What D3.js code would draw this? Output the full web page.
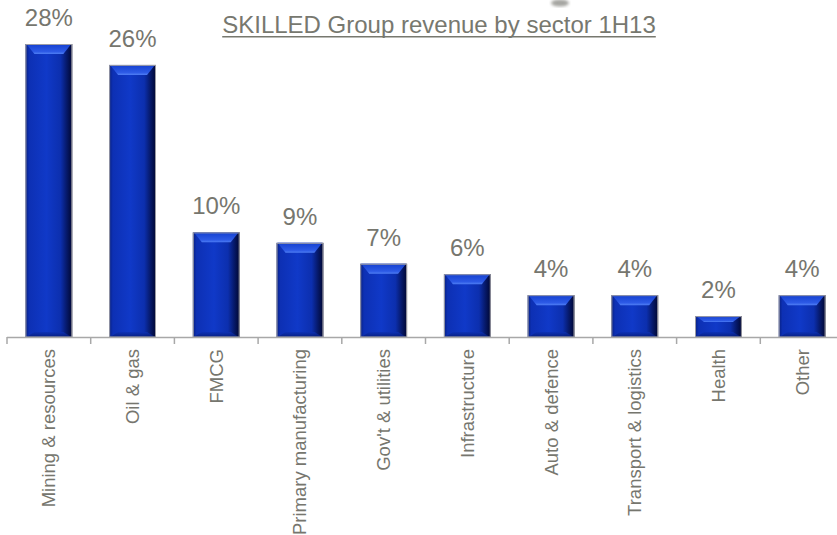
<!DOCTYPE html>
<html>
<head>
<meta charset="utf-8">
<script src="https://cdn.jsdelivr.net/npm/d3@7"></script>
<style>
  html, body { margin: 0; padding: 0; background: #ffffff; }
  svg { display: block; font-family: "Liberation Sans", Arial, sans-serif; }
</style>
</head>
<body>
<svg id="chart" width="837" height="535"></svg>
<script>
// Revenue share by sector, first half FY13
const sectors = ["Mining & resources", "Oil & gas", "FMCG", "Primary manufacturing",
  "Gov't & utilities", "Infrastructure", "Auto & defence", "Transport & logistics",
  "Health", "Other"];
const shares = [28, 26, 10, 9, 7, 6, 4, 4, 2, 4];
const chartTitle = "SKILLED Group revenue by sector 1H13";

const baseY = 337;
const textColor = "#76766e";

const svg = d3.select("#chart");

// Gradients for the bevelled bars
const defs = svg.append("defs");
const face = defs.append("linearGradient").attr("id", "barFace")
  .attr("x1", "0").attr("x2", "1").attr("y1", "0").attr("y2", "0");
[["0%", "#071f80"], ["8%", "#0d30b4"], ["45%", "#1039c8"], ["75%", "#0c2fae"], ["88%", "#06196a"], ["100%", "#000630"]]
  .forEach(([o, c]) => face.append("stop").attr("offset", o).attr("stop-color", c));
const topBevel = defs.append("linearGradient").attr("id", "barTop")
  .attr("x1", "0").attr("x2", "0").attr("y1", "0").attr("y2", "1");
[["0%", "#1440d0"], ["75%", "#2d5ae6"], ["100%", "#4f7ef4"]]
  .forEach(([o, c]) => topBevel.append("stop").attr("offset", o).attr("stop-color", c));
const botBevel = defs.append("linearGradient").attr("id", "barBot")
  .attr("x1", "0").attr("x2", "0").attr("y1", "0").attr("y2", "1");
[["0%", "#0d31b4"], ["100%", "#061c78"]]
  .forEach(([o, c]) => botBevel.append("stop").attr("offset", o).attr("stop-color", c));
defs.append("filter").attr("id", "smudge")
  .append("feGaussianBlur").attr("stdDeviation", 1.6);

// Scales
const x = d3.scaleBand().domain(sectors).range([7, 844])
  .paddingInner(0.44).paddingOuter(0.22);
const y = d3.scaleLinear().domain([0, 28]).range([baseY, 44]);

// Small grey mark near the top edge
svg.append("ellipse").attr("cx", 560).attr("cy", 3).attr("rx", 9).attr("ry", 3.5)
  .attr("fill", "#a4a4a0").attr("filter", "url(#smudge)");

// Title
const title = svg.append("text")
  .attr("x", 439).attr("y", 33)
  .attr("text-anchor", "middle")
  .attr("font-size", 24)
  .attr("fill", "#77786f")
  .text(chartTitle);
const tLen = title.node().getComputedTextLength();
svg.append("line")
  .attr("x1", 439 - tLen / 2).attr("x2", 439 + tLen / 2)
  .attr("y1", 36.8).attr("y2", 36.8)
  .attr("stroke", "#77786f").attr("stroke-width", 1.4);

// Bars
const data = sectors.map((s, i) => ({ sector: s, value: shares[i] }));
const bw = x.bandwidth();
const bev = 9;

const bars = svg.append("g").selectAll("g").data(data).join("g");
bars.append("rect")
  .attr("x", d => x(d.sector)).attr("y", d => y(d.value))
  .attr("width", bw).attr("height", d => baseY - y(d.value))
  .attr("fill", "url(#barFace)");
bars.append("path")
  .attr("d", d => {
    const x0 = x(d.sector), y0 = y(d.value);
    const depth = Math.min(10, (baseY - y0) / 3.5);
    return `M${x0 + 1},${y0}H${x0 + bw - 1}L${x0 + bw - bev},${y0 + depth}H${x0 + bev}Z`;
  })
  .attr("fill", "url(#barTop)");
bars.append("path")
  .attr("d", d => {
    const x0 = x(d.sector), y0 = y(d.value);
    const depth = Math.min(5, (baseY - y0) / 4);
    return `M${x0 + 1},${baseY}H${x0 + bw - 1}L${x0 + bw - bev},${baseY - depth}H${x0 + bev}Z`;
  })
  .attr("fill", "url(#barBot)").attr("opacity", 0.85);
bars.append("rect")
  .attr("x", d => x(d.sector) + 0.5).attr("y", d => y(d.value) + 0.5)
  .attr("width", bw - 1).attr("height", d => baseY - y(d.value) - 0.5)
  .attr("fill", "none").attr("stroke", "#9c9ca4").attr("stroke-width", 1);

// Value labels
const fmt = d3.format(".0%");
bars.append("text")
  .attr("x", d => x(d.sector) + bw / 2)
  .attr("y", d => y(d.value) - 18)
  .attr("text-anchor", "middle")
  .attr("font-size", 24)
  .attr("fill", textColor)
  .text(d => fmt(d.value / 100));

// Category axis with ticks on band boundaries
const axis = svg.append("g");
axis.append("line")
  .attr("x1", x.range()[0]).attr("x2", x.range()[1])
  .attr("y1", baseY + 0.5).attr("y2", baseY + 0.5)
  .attr("stroke", "#a8a8a8").attr("stroke-width", 1.5);
axis.selectAll("line.tick").data(d3.range(sectors.length + 1)).join("line")
  .attr("class", "tick")
  .attr("x1", i => x.range()[0] + i * x.step())
  .attr("x2", i => x.range()[0] + i * x.step())
  .attr("y1", baseY).attr("y2", baseY + 7)
  .attr("stroke", "#a8a8a8").attr("stroke-width", 1.5);

axis.selectAll("text").data(sectors).join("text")
  .attr("transform", d => `translate(${x(d) + bw / 2},349) rotate(-90)`)
  .attr("dy", "0.35em")
  .attr("text-anchor", "end")
  .attr("font-size", 18.5)
  .attr("fill", textColor)
  .text(d => d);
</script>
</body>
</html>
